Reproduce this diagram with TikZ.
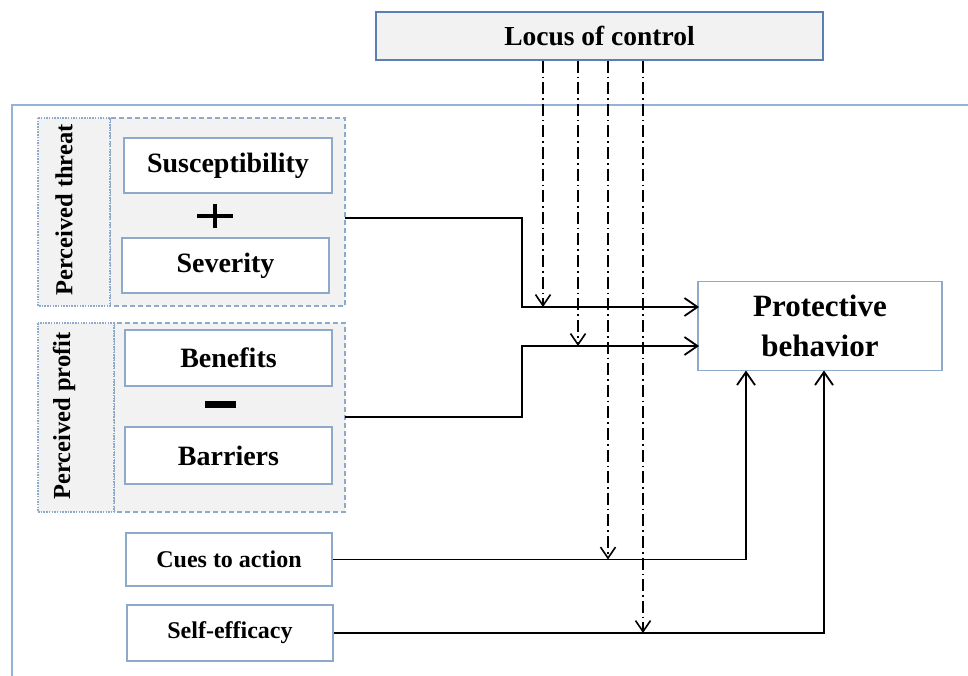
\documentclass[tikz,border=0pt]{standalone}
\usepackage{fontspec}
\setmainfont{Liberation Serif}
\usetikzlibrary{arrows.meta}
\definecolor{frameblue}{HTML}{95B3D7}
\definecolor{boxblue}{HTML}{8EAACB}
\definecolor{locblue}{HTML}{5A7EB5}
\definecolor{lgray}{HTML}{F2F2F2}
\tikzset{
  box/.style={draw=boxblue, line width=1.2pt, fill=white, inner sep=0pt},
  grp/.style={draw=boxblue, line width=1.1pt, dash pattern=on 5pt off 3pt, fill=lgray},
  lbl/.style={draw=boxblue, line width=1.1pt, dash pattern=on 1.5pt off 1.2pt, fill=lgray},
  conn/.style={line width=1.8pt, black},
  arr/.style={-{Straight Barb[length=13pt,width=18pt,line width=1.8pt]}},
  darr/.style={-{Straight Barb[length=11pt,width=15pt,line width=1.6pt]}},
  dd/.style={line width=1.5pt, black, dash pattern=on 12pt off 4pt on 1.6pt off 4pt},
  txt/.style={font=\bfseries\fontsize{28}{30}\selectfont},
}
\begin{document}
\begin{tikzpicture}[x=1pt,y=-1pt]
\useasboundingbox (0,0) rectangle (968,676);
% outer frame
\draw[frameblue, line width=1.4pt] (968,105) -- (12,105) -- (12,676);
% locus of control
\node[draw=locblue, line width=1.4pt, fill=lgray, minimum width=447pt, minimum height=48pt, inner sep=0pt, font=\bfseries\fontsize{27.5}{29}\selectfont] (loc) at (599.5,36) {Locus of control};
% groups
\draw[grp] (110,118) rectangle (345,306);
\draw[lbl] (38,118) rectangle (110,306);
\node[rotate=90, font=\bfseries\fontsize{24.5}{26}\selectfont] (pt) at (64,210) {Perceived threat};
\coordinate (thr) at (345,218);
\draw[grp] (114,323) rectangle (345,512);
\draw[lbl] (38,323) rectangle (114,512);
\node[rotate=90, font=\bfseries\fontsize{24.5}{26}\selectfont] (pp) at (64,416) {Perceived profit};
\coordinate (prf) at (345,417);
% inner boxes
\node[box, minimum width=208pt, minimum height=55pt, txt] (sus) at (228,165.5) {Susceptibility};
\node[box, minimum width=207pt, minimum height=55pt, txt] (sev) at (225.5,265.5) {Severity};
\node[box, minimum width=207pt, minimum height=56pt, txt] (ben) at (228.5,358) {Benefits};
\node[box, minimum width=207pt, minimum height=57pt, txt] (bar) at (228.5,455.5) {Barriers};
\node[box, minimum width=206pt, minimum height=53pt, font=\bfseries\fontsize{24}{26}\selectfont] (cue) at (229,559.5) {Cues to action};
\node[box, minimum width=206pt, minimum height=56pt, font=\bfseries\fontsize{24}{26}\selectfont] (se) at (230,633) {Self-efficacy};
\node[box, minimum width=244pt, minimum height=89pt, align=center, font=\bfseries\fontsize{31}{40}\selectfont] (pb) at (820,326) {Protective\\behavior};
% plus and minus
\draw[line width=4.5pt] (197,216) -- (233,216) (215,204) -- (215,228);
\fill (205,401) rectangle (236,408);
% connectors
\coordinate (pb1) at (699,307);
\coordinate (pb2) at (699,346);
\coordinate (pbb1) at (746,370.5);
\coordinate (pbb2) at (824,370.5);
\draw[conn, arr] (thr) -- (522,218) -- (522,307) -- (pb1);
\draw[conn, arr] (prf) -- (522,417) -- (522,346) -- (pb2);
\draw[conn, arr] (cue.east) -| (pbb1);
\draw[conn, arr] (se.east) -| (pbb2);
% locus dash-dot lines
\coordinate (d1) at (543,307);
\coordinate (d2) at (578,346);
\coordinate (d3) at (608,559.5);
\coordinate (d4) at (643,633);
\draw[dd, darr] (loc.south -| d1) -- (d1);
\draw[dd, darr] (loc.south -| d2) -- (d2);
\draw[dd, darr] (loc.south -| d3) -- (d3);
\draw[dd, darr] (loc.south -| d4) -- (d4);
\end{tikzpicture}
\end{document}
